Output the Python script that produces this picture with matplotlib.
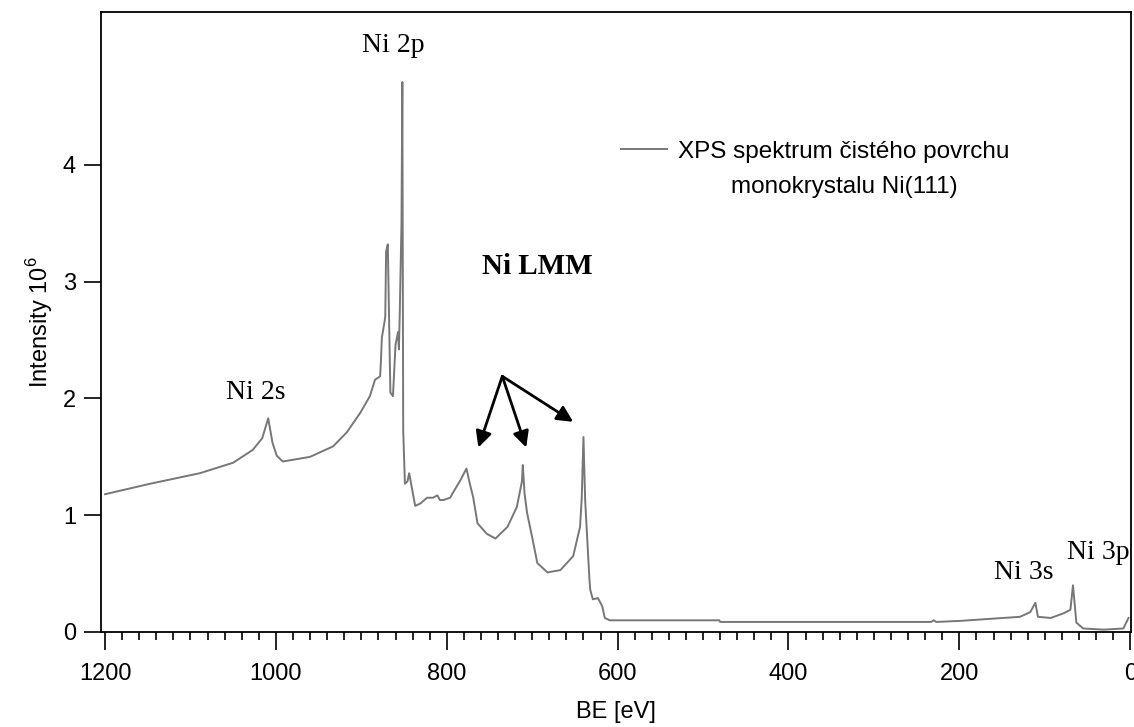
import numpy as np
import matplotlib
matplotlib.use("Agg")
import matplotlib.pyplot as plt
from matplotlib.ticker import MultipleLocator, FixedLocator
from matplotlib.legend_handler import HandlerLine2D

plt.rcParams['font.family'] = ['Liberation Sans', 'DejaVu Sans']
plt.rcParams['mathtext.fontset'] = 'custom'
plt.rcParams['mathtext.rm'] = 'Liberation Sans'

# XPS survey spectrum of clean Ni(111)
be = [1200, 1147, 1089, 1050, 1027, 1016, 1009, 1004, 999, 992, 960, 933, 917,
      901, 890, 884, 878, 877, 876, 873, 872, 871, 869, 867, 866, 863, 860, 857,
      856, 855, 853, 852, 851, 849, 846, 844, 841, 837, 831, 823, 816, 811, 808,
      804, 796, 793, 784, 777, 773, 769, 764, 753, 743, 729, 718, 712, 711, 709,
      706, 700, 694, 682, 667, 652, 644, 642, 640, 638, 635, 633, 632, 629, 623,
      618, 615, 609, 540, 481, 480, 380, 284, 233, 230, 227, 199, 149, 129, 117,
      111, 108, 93, 78, 70, 67, 63, 55, 31, 8, 2]
intensity = [1.18, 1.27, 1.36, 1.45, 1.56, 1.66, 1.83, 1.62, 1.51, 1.46, 1.50, 1.59,
             1.71, 1.88, 2.02, 2.16, 2.19, 2.33, 2.52, 2.65, 2.70, 3.26, 3.32, 2.45,
             2.05, 2.02, 2.46, 2.57, 2.42, 2.74, 3.50, 4.71, 1.73, 1.27, 1.29, 1.36,
             1.24, 1.08, 1.10, 1.15, 1.15, 1.17, 1.13, 1.13, 1.15, 1.19, 1.30, 1.40,
             1.27, 1.15, 0.93, 0.84, 0.80, 0.90, 1.07, 1.29, 1.43, 1.19, 1.02, 0.81,
             0.59, 0.51, 0.53, 0.65, 0.90, 1.15, 1.67, 1.13, 0.72, 0.45, 0.36, 0.28,
             0.29, 0.22, 0.12, 0.10, 0.10, 0.10, 0.086, 0.086, 0.086, 0.086, 0.10,
             0.086, 0.095, 0.12, 0.13, 0.17, 0.25, 0.13, 0.12, 0.16, 0.19, 0.40, 0.08,
             0.03, 0.02, 0.03, 0.12]

y_ticks = [0, 1, 2, 3, 4]

peak_labels = ['Ni 2p', 'Ni 2s', 'Ni 3s', 'Ni 3p']
peak_pos = [(863, 5.02), (1024, 2.05), (125, 0.51), (37, 0.68)]
lmm_label_pos = (694, 3.13)
lmm_origin = (735, 2.19)
lmm_targets = [(763, 1.58), (707, 1.58), (652, 1.80)]

LEG_FS = 17.5
LEG_SPACING = 1.75


class UpperLineHandler(HandlerLine2D):
    # put the legend line next to the first text line
    def create_artists(self, legend, orig_handle, xdescent, ydescent,
                       width, height, fontsize, trans):
        return super().create_artists(legend, orig_handle, xdescent,
                                      ydescent - 1.68 * fontsize, width, height,
                                      fontsize, trans)


fig = plt.figure(figsize=(11.34, 7.27), dpi=100)
ax = fig.add_axes([0.0891, 0.1307, 0.9083, 0.8528])

line, = ax.plot(be, intensity, color='#777777', lw=1.4,
                label='XPS spektrum čistého povrchu\nmonokrystalu Ni(111)')

ax.set_xlim(1204.7, -1)
ax.set_ylim(0, 5.31)
ax.xaxis.set_major_locator(MultipleLocator(200))
ax.xaxis.set_minor_locator(MultipleLocator(20))
ax.yaxis.set_major_locator(FixedLocator(y_ticks))
ax.tick_params(axis='x', which='major', length=13, width=1.2, pad=9, labelsize=17)
ax.tick_params(axis='x', which='minor', length=6, width=1.2)
ax.tick_params(axis='y', which='major', length=12, width=1.2, pad=6, labelsize=17)
for sp in ax.spines.values():
    sp.set_linewidth(1.3)

ax.set_xlabel('BE [eV]', fontsize=17, labelpad=12)
ax.set_ylabel('Intensity 10$^{6}$', fontsize=17, labelpad=6)

serif = ['Liberation Serif', 'DejaVu Serif']
for lab, (x, y) in zip(peak_labels, peak_pos):
    ax.text(x, y, lab, family=serif, fontsize=20, ha='center', va='center')

ax.text(*lmm_label_pos, 'Ni LMM', family=serif, fontsize=21,
        fontweight='bold', ha='center', va='center')
for tx, ty in lmm_targets:
    ax.annotate('', xy=(tx, ty), xytext=lmm_origin,
                arrowprops=dict(arrowstyle='-|>', color='black', lw=2,
                                mutation_scale=24, shrinkA=0, shrinkB=0))

leg = ax.legend(loc='upper left', bbox_to_anchor=(0.505, 0.792), frameon=False,
                fontsize=LEG_FS, handlelength=1.9, handletextpad=0.45,
                borderpad=0, borderaxespad=0,
                handler_map={line: UpperLineHandler()})
for t in leg.get_texts():
    t.set_multialignment('center')
    t.set_linespacing(LEG_SPACING)

fig.savefig('out.png', dpi=100)
